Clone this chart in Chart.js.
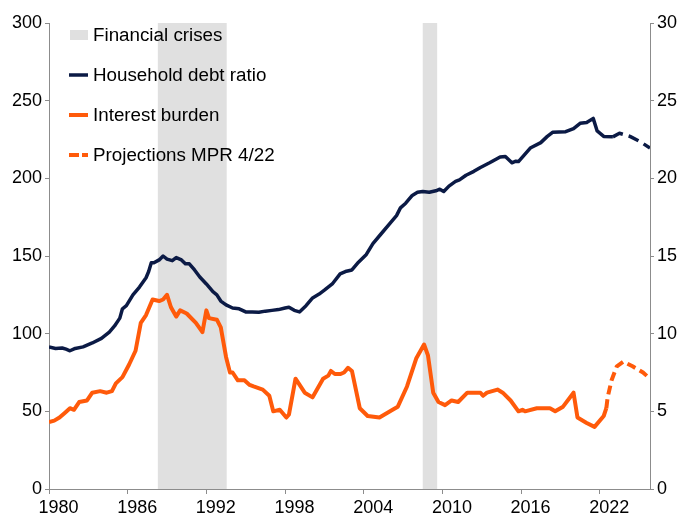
<!DOCTYPE html>
<html>
<head>
<meta charset="utf-8">
<script src="https://cdn.jsdelivr.net/npm/chart.js@4"></script>
<style>
  body { margin: 0; background: #fff; }
  #wrap { width: 680px; height: 518px; }
</style>
</head>
<body>
<div id="wrap"><canvas id="myChart" width="680" height="518"></canvas></div>
<script>
// household debt ratio, left axis (per cent of disposable income)
let debtYears = [1980.0, 1980.5, 1981.0, 1981.3, 1981.6, 1982.0, 1982.6, 1983.3, 1984.0, 1984.6, 1985.0, 1985.4, 1985.6, 1985.9, 1986.4, 1986.9, 1987.4, 1987.6, 1987.8, 1988.0, 1988.4, 1988.7, 1989.0, 1989.4, 1989.7, 1990.1, 1990.4, 1990.7, 1991.1, 1991.5, 1992.0, 1992.5, 1992.8, 1993.1, 1993.5, 1994.0, 1994.5, 1995.0, 1995.5, 1996.0, 1996.5, 1997.0, 1997.5, 1998.0, 1998.3, 1998.7, 1999.1, 1999.6, 2000.1, 2000.6, 2001.0, 2001.6, 2002.2, 2002.6, 2003.1, 2003.6, 2004.2, 2004.7, 2005.3, 2006.0, 2006.5, 2006.8, 2007.2, 2007.7, 2008.1, 2008.5, 2009.0, 2009.5, 2009.8, 2010.1, 2010.5, 2011.0, 2011.3, 2011.8, 2012.4, 2012.9, 2013.6, 2014.4, 2014.8, 2015.3, 2015.6, 2015.8, 2016.7, 2017.5, 2018.0, 2018.4, 2019.4, 2020.0, 2020.5, 2021.0, 2021.5, 2021.8, 2022.3, 2023.0];
let debtValues = [91.4, 90.5, 90.8, 90, 89, 90.5, 91.5, 94, 97, 101, 105, 110, 116, 118, 125, 130, 136, 140, 145.6, 145.6, 147.5, 150, 148, 147, 149, 147.5, 145, 145, 141, 136.5, 132, 127, 125, 121, 118.5, 116.5, 116, 114, 114, 113.8, 114.5, 115, 115.5, 116.5, 117, 115, 114, 118, 123, 125.5, 128, 132, 138.5, 140, 141, 146, 151, 158, 164, 171, 176, 181, 184, 189, 191, 191.5, 191, 192, 193, 191.5, 195, 198, 199, 202, 204.5, 207, 210, 213.7, 214, 210, 211, 210.8, 219.5, 223, 227, 229.6, 230, 232, 235.4, 236, 238.6, 230.5, 227, 226.7];
let debtProjYears = [2023.0, 2023.5, 2024.3, 2025.1, 2025.83];
let debtProjValues = [226.7, 229, 227, 223.5, 219.5];

// interest burden, right axis (per cent)
let burdenYears = [1980.0, 1980.4, 1980.8, 1981.2, 1981.6, 1981.9, 1982.3, 1982.9, 1983.3, 1983.9, 1984.4, 1984.8, 1985.1, 1985.6, 1986.1, 1986.6, 1987.0, 1987.4, 1987.9, 1988.4, 1988.7, 1989.0, 1989.3, 1989.7, 1990.0, 1990.5, 1991.2, 1991.7, 1992.0, 1992.2, 1992.8, 1993.1, 1993.5, 1993.8, 1994.0, 1994.4, 1994.9, 1995.3, 1995.6, 1996.3, 1996.8, 1997.1, 1997.6, 1998.1, 1998.3, 1998.8, 1999.5, 2000.1, 2000.9, 2001.3, 2001.5, 2001.8, 2002.2, 2002.5, 2002.8, 2003.1, 2003.7, 2004.3, 2005.2, 2006.2, 2006.6, 2007.3, 2008.0, 2008.6, 2008.9, 2009.3, 2009.7, 2010.2, 2010.7, 2011.2, 2011.9, 2012.9, 2013.1, 2013.4, 2014.2, 2014.6, 2015.2, 2015.8, 2016.1, 2016.3, 2017.2, 2018.2, 2018.6, 2019.2, 2020.0, 2020.3, 2021.0, 2021.6, 2022.3, 2022.5];
let burdenValues = [4.3, 4.4, 4.6, 4.9, 5.2, 5.1, 5.6, 5.7, 6.2, 6.3, 6.2, 6.3, 6.8, 7.2, 8.0, 8.9, 10.7, 11.2, 12.2, 12.1, 12.2, 12.5, 11.7, 11.1, 11.5, 11.3, 10.7, 10.1, 11.5, 11.0, 10.9, 10.4, 8.5, 7.5, 7.5, 7.0, 7.0, 6.7, 6.6, 6.4, 6.0, 5.0, 5.1, 4.6, 4.8, 7.1, 6.2, 5.9, 7.1, 7.3, 7.6, 7.4, 7.4, 7.5, 7.8, 7.6, 5.2, 4.7, 4.6, 5.1, 5.3, 6.6, 8.4, 9.3, 8.6, 6.2, 5.6, 5.4, 5.7, 5.6, 6.2, 6.2, 6.0, 6.2, 6.4, 6.2, 5.7, 5.0, 5.1, 5.0, 5.2, 5.2, 5.0, 5.3, 6.2, 4.6, 4.25, 4.0, 4.7, 5.2];
let burdenProjYears = [2022.5, 2022.6, 2022.9, 2023.3, 2023.8, 2024.5, 2025.3, 2025.83];
let burdenProjValues = [5.2, 5.9, 7.0, 7.9, 8.2, 7.9, 7.5, 7.1];

// financial crises, start and end
let crises = [[1988.3, 1993.55], [2008.5, 2009.6]];

let xTicks = [1980, 1986, 1992, 1998, 2004, 2010, 2016, 2022];

let legendItems = ["Financial crises", "Household debt ratio", "Interest burden", "Projections MPR 4/22"];

const navy = "#0b1a45";
const orange = "#ff5a0a";
const grey = "#e0e0e0";
const axisGrey = "#8c8c8c";
const font = "'Liberation Sans', Arial, sans-serif";

function pts(xs, ys) {
    let out = [];
    for (let i = 0; i < xs.length; i++) {
        out.push({ x: xs[i], y: ys[i] });
    }
    return out;
}

// grey bands behind the lines
const crisisBands = {
    id: "crisisBands",
    beforeDatasetsDraw(chart) {
        let ctx = chart.ctx;
        let xs = chart.scales.x;
        let area = chart.chartArea;
        ctx.save();
        ctx.fillStyle = grey;
        crises.forEach(function (c) {
            let x1 = xs.getPixelForValue(c[0]);
            let x2 = xs.getPixelForValue(c[1]);
            ctx.fillRect(x1, area.top, x2 - x1, area.bottom - area.top);
        });
        ctx.restore();
    }
};

// legend in the top left corner of the plot
const legendBox = {
    id: "legendBox",
    afterDraw(chart) {
        let ctx = chart.ctx;
        let x0 = 70, x1 = 88, tx = 93;
        ctx.save();
        ctx.font = "18.8px " + font;
        ctx.textBaseline = "middle";
        ctx.fillStyle = "#000";
        for (let i = 0; i < legendItems.length; i++) {
            let y = 35 + i * 40;
            if (i == 0) {
                ctx.fillStyle = grey;
                ctx.fillRect(x0, y - 5, x1 - x0, 10);
            } else {
                ctx.beginPath();
                ctx.lineWidth = i == 1 ? 3.5 : 4;
                ctx.strokeStyle = i == 1 ? navy : orange;
                if (i == 3) ctx.setLineDash([10, 3]);
                else ctx.setLineDash([]);
                ctx.moveTo(x0 - 1, y);
                ctx.lineTo(x1, y);
                ctx.stroke();
            }
            ctx.setLineDash([]);
            ctx.fillStyle = "#000";
            ctx.fillText(legendItems[i], tx, y + 1);
        }
        ctx.restore();
    }
};

const lineBase = { pointRadius: 0, tension: 0, fill: false, borderJoinStyle: "round" };

const config = {
    type: "line",
    data: {
        datasets: [
            Object.assign({ label: "Household debt ratio", data: pts(debtYears, debtValues), borderColor: navy, borderWidth: 3.5, yAxisID: "y" }, lineBase),
            Object.assign({ label: "Household debt ratio, projection", data: pts(debtProjYears, debtProjValues), borderColor: navy, borderWidth: 3.5, borderDash: [11, 6], yAxisID: "y" }, lineBase),
            Object.assign({ label: "Interest burden", data: pts(burdenYears, burdenValues), borderColor: orange, borderWidth: 4, yAxisID: "y2" }, lineBase),
            Object.assign({ label: "Projections MPR 4/22", data: pts(burdenProjYears, burdenProjValues), borderColor: orange, borderWidth: 4, borderDash: [9, 5], yAxisID: "y2" }, lineBase)
        ]
    },
    options: {
        responsive: false,
        animation: false,
        layout: { padding: { top: 23, left: 0, right: 0, bottom: 0 } },
        plugins: {
            legend: { display: false },
            tooltip: { enabled: false }
        },
        scales: {
            x: {
                type: "linear",
                min: 1980,
                max: 2025.83,
                afterBuildTicks: function (scale) {
                    scale.ticks = xTicks.map(function (v) { return { value: v }; });
                },
                afterFit: function (scale) { scale.height = 29; },
                grid: { drawOnChartArea: false, drawTicks: true, tickLength: 5, color: axisGrey },
                border: { color: axisGrey, width: 1 },
                ticks: {
                    autoSkip: false,
                    maxRotation: 0,
                    labelOffset: 9.5,
                    padding: 3,
                    color: "#000",
                    font: { size: 18, family: font },
                    callback: function (v) { return String(v); }
                }
            },
            y: {
                position: "left",
                min: 0,
                max: 300,
                afterFit: function (scale) { scale.width = 49; },
                grid: { drawOnChartArea: false, drawTicks: true, tickLength: 4, color: axisGrey },
                border: { color: axisGrey, width: 1 },
                ticks: { stepSize: 50, padding: 3, color: "#000", font: { size: 18, family: font } }
            },
            y2: {
                position: "right",
                min: 0,
                max: 30,
                afterFit: function (scale) { scale.width = 30; },
                grid: { drawOnChartArea: false, drawTicks: true, tickLength: 4, color: axisGrey },
                border: { color: axisGrey, width: 1 },
                ticks: { stepSize: 5, padding: 3, color: "#000", font: { size: 18, family: font } }
            }
        }
    },
    plugins: [crisisBands, legendBox]
};

let myChart = new Chart(document.getElementById("myChart"), config);
</script>
</body>
</html>
